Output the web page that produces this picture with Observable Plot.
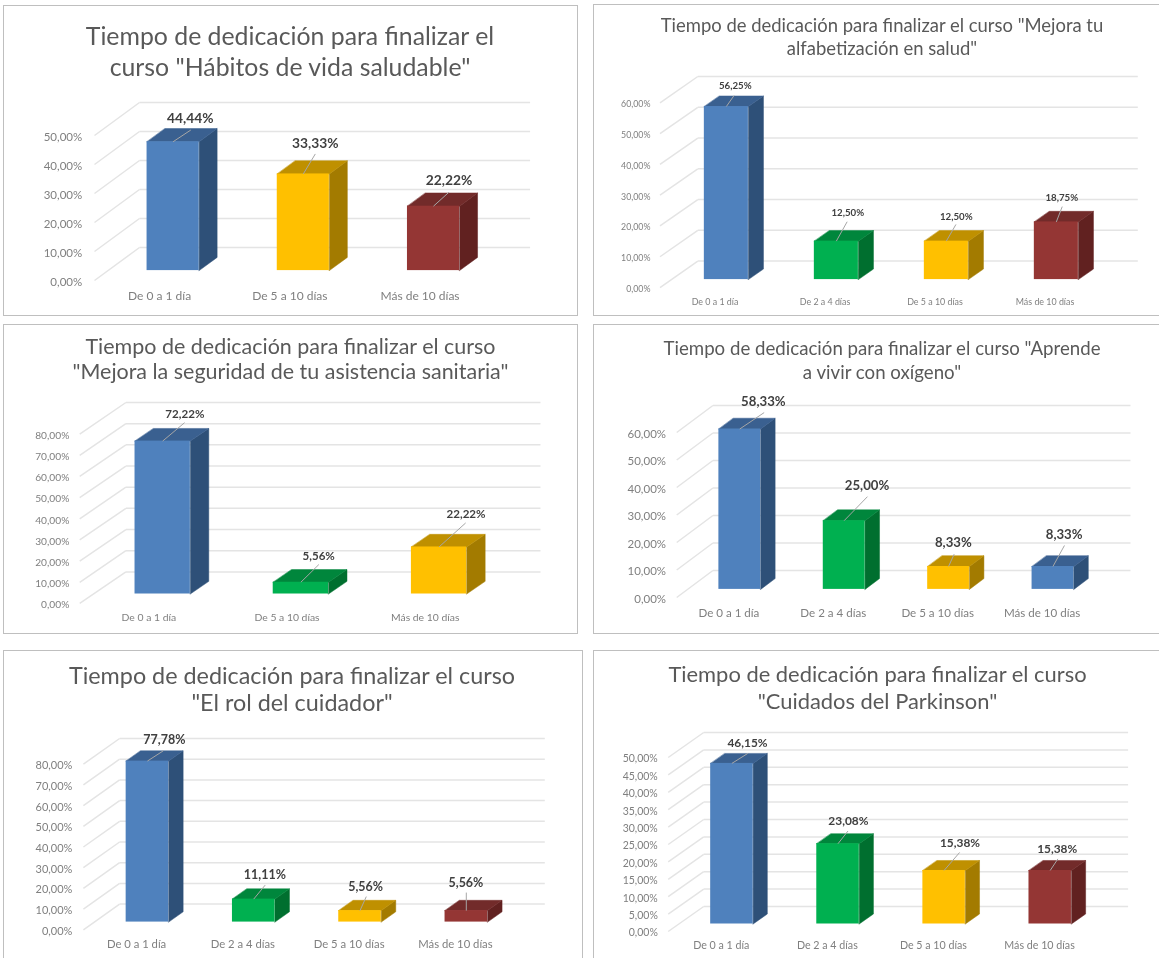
<!DOCTYPE html>
<html lang="es">
<head>
<meta charset="utf-8">
<title>Tiempo de dedicación para finalizar los cursos</title>
<script src="https://cdn.jsdelivr.net/npm/d3@7"></script>
<script src="https://cdn.jsdelivr.net/npm/@observablehq/plot@0.6"></script>
<style>
  html, body { margin: 0; padding: 0; background: #fff; width: 1159px; height: 958px; overflow: hidden; }
  body { position: relative; font-family: Lato, "Open Sans", sans-serif; }
  .panel { position: absolute; box-sizing: border-box; border: 1px solid #bfbfbf; background: #fff; }
  .line { position: absolute; white-space: nowrap; color: #595959; transform: translate(-50%, -50%); line-height: 1; filter: blur(0.35px); }
  .panel svg { position: absolute; overflow: visible; background: transparent; filter: blur(0.35px); }
</style>
</head>
<body>
<script>
// ---------- chart values ----------
const titleLines = [
  ["Tiempo de dedicación para finalizar el", "curso \"Hábitos de vida saludable\""],
  ["Tiempo de dedicación para finalizar el curso \"Mejora tu", "alfabetización en salud\""],
  ["Tiempo de dedicación para finalizar el curso", "\"Mejora la seguridad de tu asistencia sanitaria\""],
  ["Tiempo de dedicación para finalizar el curso \"Aprende", "a vivir con oxígeno\""],
  ["Tiempo de dedicación para finalizar el curso", "\"El rol del cuidador\""],
  ["Tiempo de dedicación para finalizar el curso", "\"Cuidados del Parkinson\""]
];
const categories = [
  ["De 0 a 1 día", "De 5 a 10 días", "Más de 10 días"],
  ["De 0 a 1 día", "De 2 a 4 días", "De 5 a 10 días", "Más de 10 días"],
  ["De 0 a 1 día", "De 5 a 10 días", "Más de 10 días"],
  ["De 0 a 1 día", "De 2 a 4 días", "De 5 a 10 días", "Más de 10 días"],
  ["De 0 a 1 día", "De 2 a 4 días", "De 5 a 10 días", "Más de 10 días"],
  ["De 0 a 1 día", "De 2 a 4 días", "De 5 a 10 días", "Más de 10 días"]
];
const values = [
  [44.44, 33.33, 22.22],
  [56.25, 12.50, 12.50, 18.75],
  [72.22, 5.56, 22.22],
  [58.33, 25.00, 8.33, 8.33],
  [77.78, 11.11, 5.56, 5.56],
  [46.15, 23.08, 15.38, 15.38]
];
const yTicks = [
  [0, 10, 20, 30, 40, 50],
  [0, 10, 20, 30, 40, 50, 60],
  [0, 10, 20, 30, 40, 50, 60, 70, 80],
  [0, 10, 20, 30, 40, 50, 60],
  [0, 10, 20, 30, 40, 50, 60, 70, 80],
  [0, 5, 10, 15, 20, 25, 30, 35, 40, 45, 50]
];
const barHues = [
  ["blue", "yellow", "red"],
  ["blue", "green", "yellow", "red"],
  ["blue", "green", "yellow"],
  ["blue", "green", "yellow", "blue"],
  ["blue", "green", "yellow", "red"],
  ["blue", "green", "yellow", "red"]
];

// ---------- styles and layout ----------
const palette = {
  blue:   {front: "#4f81bd", top: "#3a6090", side: "#2e5078"},
  green:  {front: "#00b050", top: "#00863c", side: "#006f2f"},
  yellow: {front: "#ffc000", top: "#bf9000", side: "#a37b00"},
  red:    {front: "#943634", top: "#722b2a", side: "#612120"}
};
const panelBoxes = [
  {left: 3,   top: 5,   width: 575, height: 311},
  {left: 593, top: 4,   width: 580, height: 312},
  {left: 3,   top: 324, width: 575, height: 310},
  {left: 593, top: 324, width: 580, height: 310},
  {left: 3,   top: 650, width: 580, height: 330},
  {left: 593, top: 650, width: 580, height: 330}
];
// floor front-left corner, floor depth vector, category width, pixels per percentage point
const projection = [
  {x0: 94,    y0: 280,   dx: 45,   dy: 33,   bw: 130.2, k: 2.90},
  {x0: 659.5, y0: 286.7, dx: 37.8, dy: 26.4, bw: 110,   k: 3.077},
  {x0: 79.2,  y0: 603.3, dx: 46.2, dy: 31.6, bw: 138.2, k: 2.1175},
  {x0: 676.2, y0: 597.3, dx: 36.2, dy: 27,   bw: 104.4, k: 2.75},
  {x0: 82.9,  y0: 929,   dx: 36.2, dy: 25.7, bw: 106.3, k: 2.07},
  {x0: 667.7, y0: 931,   dx: 35.5, dy: 25,   bw: 106.1, k: 3.48}
];
const titleStyle = [
  {cx: 290,   y1: 35,  y2: 66,  width: 409},
  {cx: 882,   y1: 25,  y2: 48,  width: 443},
  {cx: 290.5, y1: 347, y2: 372, width: 410.7},
  {cx: 882,   y1: 348, y2: 372, width: 437.7},
  {cx: 292,   y1: 675.7, y2: 703.3, width: 447},
  {cx: 877.5, y1: 674, y2: 701, width: 418.8}
];
const textSizes = [
  {tick: 11.5, cat: 12,   label: 13.8, pad: 12.3, catOff: 17.7},
  {tick: 8.8,  cat: 8.9,  label: 9.7,  pad: 9.5,  catOff: 15.7},
  {tick: 10.2, cat: 10.4, label: 11.6, pad: 10.4, catOff: 15.7},
  {tick: 11.5, cat: 11.6, label: 13.2, pad: 10.7, catOff: 18},
  {tick: 11,   cat: 11.3, label: 12.5, pad: 11,   catOff: 16.7},
  {tick: 10.5, cat: 10.7, label: 11.9, pad: 10.4, catOff: 15.7}
];
// leader-line end and label centre, as pixel offsets from the top-front centre of each bar
const calloutOffsets = [
  [[17.7,-11.7,17.2,-23], [12,-20,12,-30], [15.5,-14,15.5,-25.5]],
  [[7.7,-11,9,-21], [10.8,-19.4,11.4,-28], [9.6,-16.7,10,-24], [5.9,-15.3,5.5,-23.7]],
  [[21.9,-18.4,22.2,-27], [18,-17.7,17.8,-26.4], [26.6,-24,27,-33]],
  [[24.4,-16.4,23.6,-27.7], [23.3,-24,22.9,-35], [5.6,-12.3,4.8,-24], [11.5,-21,11.2,-32]],
  [[15.9,-10.3,17,-21], [11.5,-14,11.2,-24], [6.3,-14,5.6,-23.7], [0,-18,-0.4,-28]],
  [[15.9,-10,15.6,-20.3], [10,-12.7,10.4,-22], [15.5,-18,15.9,-27.6], [7.7,-11.6,7,-21]]
];
const barWidth = 0.4, depthNear = 0.3, depthFar = 0.7;
const tickNudge = 1.5;
const gridColor = "#e4e4e4", axisColor = "#7f7f7f", labelColor = "#404040", leaderColor = "#a6a6a6";

const pct = v => d3.format(".2f")(v).replace(".", ",") + "%";
const ctx = document.createElement("canvas").getContext("2d");
function fitSize(text, width) {
  ctx.font = "100px Lato";
  return 100 * width / ctx.measureText(text).width;
}

function drawPanel(i) {
  const box = panelBoxes[i], p = projection[i], sz = textSizes[i], t = titleStyle[i];
  const vals = values[i], cats = categories[i], ticks = yTicks[i], n = cats.length;
  const vmax = d3.max(ticks);
  const dc = p.dx / p.bw, dv = p.dy / p.k;      // depth expressed in data units
  const backTop = p.y0 - p.dy - vmax * p.k;     // page y of the highest back grid line
  const svgTop = backTop - 12;                  // page y where the SVG begins, under the title

  const el = document.createElement("div");
  el.className = "panel";
  Object.assign(el.style, {left: box.left + "px", top: box.top + "px", width: box.width + "px", height: box.height + "px"});
  document.body.appendChild(el);

  const fs = fitSize(titleLines[i][0], t.width);
  titleLines[i].forEach((txt, j) => {
    const d = document.createElement("div");
    d.className = "line";
    d.textContent = txt;
    Object.assign(d.style, {
      left: (t.cx - box.left - 1) + "px",
      top: ((j ? t.y2 : t.y1) - box.top - 1) + "px",
      fontSize: fs + "px"
    });
    el.appendChild(d);
  });

  const proj = (c, v, d) => ({x: c + d * dc, y: v + d * dv});
  const poly = pts => pts.map(([c, v, d]) => proj(c, v, d));

  const marks = [];
  // grid: back wall and left wall
  marks.push(Plot.link(ticks, {
    x1: () => dc, y1: v => v + dv, x2: () => n + dc, y2: v => v + dv,
    stroke: gridColor, strokeWidth: 1.5
  }));
  marks.push(Plot.link(ticks, {
    x1: () => 0, y1: v => v, x2: () => dc, y2: v => v + dv,
    stroke: gridColor, strokeWidth: 1.5
  }));
  // bars
  vals.forEach((v, j) => {
    const c = palette[barHues[i][j]];
    const a = j + 0.5 - barWidth / 2, b = j + 0.5 + barWidth / 2;
    const side = poly([[b, 0, depthNear], [b, 0, depthFar], [b, v, depthFar], [b, v, depthNear]]);
    const top = poly([[a, v, depthNear], [b, v, depthNear], [b, v, depthFar], [a, v, depthFar]]);
    const near0 = proj(a, 0, depthNear), near1 = proj(b, v, depthNear);
    marks.push(Plot.line(side, {x: "x", y: "y", fill: c.side, stroke: c.side, strokeWidth: 0.5, curve: "linear-closed"}));
    marks.push(Plot.line(top, {x: "x", y: "y", fill: c.top, stroke: c.top, strokeWidth: 0.5, curve: "linear-closed"}));
    marks.push(Plot.rect([{x1: near0.x, x2: near1.x, y1: near0.y, y2: near1.y}], {
      x1: "x1", x2: "x2", y1: "y1", y2: "y2", fill: c.front
    }));
  });
  // callouts
  const callouts = vals.map((v, j) => {
    const base = proj(j + 0.5, v, depthNear);
    const [ox, oy, lx, ly] = calloutOffsets[i][j];
    return {
      text: pct(v), x1: base.x, y1: base.y,
      x2: base.x + ox / p.bw, y2: base.y - oy / p.k,
      lx: base.x + lx / p.bw, ly: base.y - ly / p.k
    };
  });
  marks.push(Plot.link(callouts, {x1: "x1", y1: "y1", x2: "x2", y2: "y2", stroke: leaderColor, strokeWidth: 1}));
  marks.push(Plot.text(callouts, {
    x: "lx", y: "ly", text: "text", fill: labelColor, fontWeight: 700, fontSize: sz.label, fontFamily: "Lato"
  }));
  // axes
  marks.push(Plot.axisY(ticks, {
    anchor: "left", tickSize: 0, tickPadding: sz.pad, tickFormat: pct, label: null, dy: tickNudge,
    fill: axisColor, fontSize: sz.tick, fontFamily: "Lato"
  }));
  marks.push(Plot.axisX(cats.map((_, j) => j + 0.5), {
    anchor: "bottom", tickSize: 0, tickPadding: sz.catOff - sz.cat * 0.55, label: null,
    tickFormat: v => cats[v - 0.5],
    fill: axisColor, fontSize: sz.cat, fontFamily: "Lato"
  }));

  const plotW = box.width - 2, plotH = box.top + box.height - 1 - svgTop;
  const left = box.left + 1;
  const chart = Plot.plot({
    width: plotW,
    height: plotH,
    marginLeft: p.x0 - left,
    marginRight: left + plotW - (p.x0 + n * p.bw + p.dx),
    marginTop: backTop - svgTop,
    marginBottom: svgTop + plotH - p.y0,
    x: {domain: [0, n + dc]},
    y: {domain: [0, vmax + dv]},
    style: {background: "transparent", fontFamily: "Lato"},
    marks
  });
  chart.style.left = "0px";
  chart.style.top = (svgTop - box.top - 1) + "px";
  el.appendChild(chart);
}

function drawAll() { titleLines.forEach((_, i) => drawPanel(i)); }
drawAll();
</script>
</body>
</html>
